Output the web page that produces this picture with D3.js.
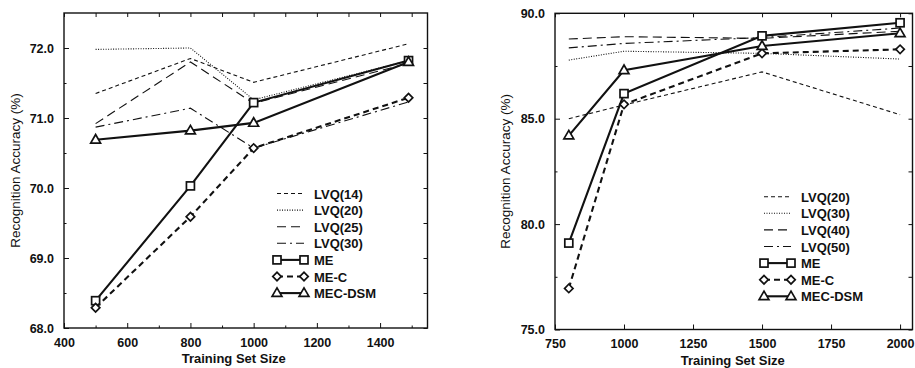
<!DOCTYPE html>
<html>
<head>
<meta charset="utf-8">
<script src="https://cdn.jsdelivr.net/npm/d3@7"></script>
<style>
  body { margin: 0; background: #fff; }
  svg { display: block; font-family: "Liberation Sans", Arial, sans-serif; }
  .tick text { font-size: 12.5px; font-weight: bold; fill: #111; }
  .domain { display: none; }
</style>
</head>
<body>
<svg id="chart" width="915" height="368"></svg>
<script>
// left panel
const sizesA = [500, 800, 1000, 1490];
const lvq14A = [71.35, 71.85, 71.51, 72.06];
const lvq20A = [71.98, 72.0, 71.26, 71.82];
const lvq25A = [70.92, 71.8, 71.21, 71.78];
const lvq30A = [70.87, 71.14, 70.57, 71.23];
const meA = [68.39, 70.03, 71.22, 71.82];
const mecA = [68.29, 69.59, 70.57, 71.29];
const dsmA = [70.69, 70.82, 70.93, 71.8];
const xTicksA = [400, 600, 800, 1000, 1200, 1400];
const yTicksA = [68, 69, 70, 71, 72];

// right panel
const sizesB = [800, 1000, 1500, 2000];
const lvq20B = [85.0, 85.65, 87.22, 85.19];
const lvq30B = [87.78, 88.2, 88.1, 87.83];
const lvq40B = [88.78, 88.89, 88.81, 89.15];
const lvq50B = [88.36, 88.57, 88.85, 89.3];
const meB = [79.1, 86.19, 88.93, 89.55];
const mecB = [76.95, 85.68, 88.1, 88.29];
const dsmB = [84.2, 87.3, 88.45, 89.05];
const xTicksB = [750, 1000, 1250, 1500, 1750, 2000];
const yTicksB = [75, 80, 85, 90];

const svg = d3.select("#chart");

const styles = {
  short: {w: 1.1, dash: "4,3"},
  dot: {w: 1.1, dash: "1,1.5"},
  long: {w: 1.1, dash: "9,5"},
  dashdot: {w: 1.1, dash: "9,4,2,4"},
  me: {w: 2.1, dash: null, sym: "square"},
  mec: {w: 2.1, dash: "6,4", sym: "diamond"},
  dsm: {w: 2.1, dash: null, sym: "triangle"}
};

function marker(g, kind, x, y) {
  if (kind === "square") {
    g.append("rect").attr("x", x - 4).attr("y", y - 4).attr("width", 8).attr("height", 8)
      .attr("fill", "#fff").attr("stroke", "#111").attr("stroke-width", 1.7);
  } else if (kind === "diamond") {
    g.append("path").attr("d", d3.symbol(d3.symbolSquare, 36)())
      .attr("transform", `translate(${x},${y}) rotate(45)`)
      .attr("fill", "#fff").attr("stroke", "#111").attr("stroke-width", 1.7);
  } else if (kind === "triangle") {
    g.append("path").attr("d", d3.symbol(d3.symbolTriangle, 42)())
      .attr("transform", `translate(${x},${y + 0.5})`)
      .attr("fill", "#fff").attr("stroke", "#111").attr("stroke-width", 1.7);
  }
}

function drawPanel(cfg) {
  const x = d3.scaleLinear().domain(cfg.xDomain).range([cfg.left, cfg.right]);
  const y = d3.scaleLinear().domain(cfg.yDomain).range([cfg.bottom, cfg.top]);
  const g = svg.append("g");

  // ticks on all four sides, pointing inward
  const minorX = d3.range(cfg.xDomain[0], cfg.xDomain[1], cfg.xMinor).filter(v => !cfg.xTicks.includes(v));
  const minorY = d3.range(cfg.yDomain[0], cfg.yDomain[1], cfg.yMinor).filter(v => !cfg.yTicks.includes(v));

  g.append("g").attr("transform", `translate(0,${cfg.bottom})`)
    .call(d3.axisBottom(x).tickValues(cfg.xTicks).tickSizeInner(-5).tickSizeOuter(0).tickPadding(10).tickFormat(d3.format("d")));
  g.append("g").attr("transform", `translate(0,${cfg.bottom})`)
    .call(d3.axisBottom(x).tickValues(minorX).tickSizeInner(-2.5).tickSizeOuter(0).tickFormat(""));
  g.append("g").attr("transform", `translate(0,${cfg.top})`)
    .call(d3.axisTop(x).tickValues(cfg.xTicks.concat(minorX)).tickSizeInner(-4).tickSizeOuter(0).tickFormat(""));
  g.append("g").attr("transform", `translate(${cfg.left},0)`)
    .call(d3.axisLeft(y).tickValues(cfg.yTicks).tickSizeInner(-5).tickSizeOuter(0).tickPadding(10).tickFormat(d3.format(".1f")));
  g.append("g").attr("transform", `translate(${cfg.left},0)`)
    .call(d3.axisLeft(y).tickValues(minorY).tickSizeInner(-2.5).tickSizeOuter(0).tickFormat(""));
  g.append("g").attr("transform", `translate(${cfg.right},0)`)
    .call(d3.axisRight(y).tickValues(cfg.yTicks.concat(minorY)).tickSizeInner(-4).tickSizeOuter(0).tickFormat(""));
  g.selectAll(".tick line").attr("stroke", "#111").attr("stroke-width", 1);

  g.append("rect")
    .attr("x", cfg.left).attr("y", cfg.top)
    .attr("width", cfg.right - cfg.left).attr("height", cfg.bottom - cfg.top)
    .attr("fill", "none").attr("stroke", "#111").attr("stroke-width", 1.4);

  const line = d3.line().x(d => x(d[0])).y(d => y(d[1]));

  cfg.series.forEach(s => {
    const st = styles[s.style];
    const pts = cfg.sizes.map((v, i) => [v, s.values[i]]);
    g.append("path").datum(pts)
      .attr("d", line)
      .attr("fill", "none").attr("stroke", "#111")
      .attr("stroke-width", st.w)
      .attr("stroke-dasharray", st.dash);
    if (st.sym) pts.forEach(p => marker(g, st.sym, x(p[0]), y(p[1])));
  });

  // legend
  const leg = g.append("g");
  cfg.series.forEach((s, i) => {
    const st = styles[s.style];
    const ly = cfg.legY + i * 16.6;
    leg.append("line")
      .attr("x1", cfg.legX).attr("x2", cfg.legX + 27).attr("y1", ly).attr("y2", ly)
      .attr("stroke", "#111").attr("stroke-width", st.w).attr("stroke-dasharray", st.dash);
    if (st.sym) {
      marker(leg, st.sym, cfg.legX, ly);
      marker(leg, st.sym, cfg.legX + 27, ly);
    }
    leg.append("text")
      .attr("x", cfg.legX + 37).attr("y", ly + 5)
      .attr("font-size", 13).attr("font-weight", "bold").attr("fill", "#111")
      .text(s.name);
  });

  g.append("text")
    .attr("x", (cfg.left + cfg.right) / 2 + cfg.xTitleShift).attr("y", cfg.bottom + 35)
    .attr("text-anchor", "middle").attr("font-size", 13).attr("font-weight", "bold").attr("fill", "#111")
    .text("Training Set Size");

  g.append("text")
    .attr("transform", `translate(${cfg.yTitleX},${(cfg.top + cfg.bottom) / 2}) rotate(-90)`)
    .attr("text-anchor", "middle").attr("dy", "0.35em").attr("font-size", 13.5).attr("fill", "#111")
    .text("Recognition Accuracy (%)");
}

drawPanel({
  left: 64, right: 427.5, top: 13, bottom: 328,
  xDomain: [400, 1550], yDomain: [68, 72.5],
  xTicks: xTicksA, yTicks: yTicksA, xMinor: 100, yMinor: 0.5,
  sizes: sizesA,
  series: [
    {name: "LVQ(14)", values: lvq14A, style: "short"},
    {name: "LVQ(20)", values: lvq20A, style: "dot"},
    {name: "LVQ(25)", values: lvq25A, style: "long"},
    {name: "LVQ(30)", values: lvq30A, style: "dashdot"},
    {name: "ME", values: meA, style: "me"},
    {name: "ME-C", values: mecA, style: "mec"},
    {name: "MEC-DSM", values: dsmA, style: "dsm"}
  ],
  legX: 277, legY: 193.5, yTitleX: 15, xTitleShift: -12
});

drawPanel({
  left: 555, right: 912.5, top: 13.3, bottom: 329.5,
  xDomain: [750, 2045], yDomain: [75, 90],
  xTicks: xTicksB, yTicks: yTicksB, xMinor: 250, yMinor: 2.5,
  sizes: sizesB,
  series: [
    {name: "LVQ(20)", values: lvq20B, style: "short"},
    {name: "LVQ(30)", values: lvq30B, style: "dot"},
    {name: "LVQ(40)", values: lvq40B, style: "long"},
    {name: "LVQ(50)", values: lvq50B, style: "dashdot"},
    {name: "ME", values: meB, style: "me"},
    {name: "ME-C", values: mecB, style: "mec"},
    {name: "MEC-DSM", values: dsmB, style: "dsm"}
  ],
  legX: 764, legY: 196.7, yTitleX: 505, xTitleShift: -1
});
</script>
</body>
</html>
